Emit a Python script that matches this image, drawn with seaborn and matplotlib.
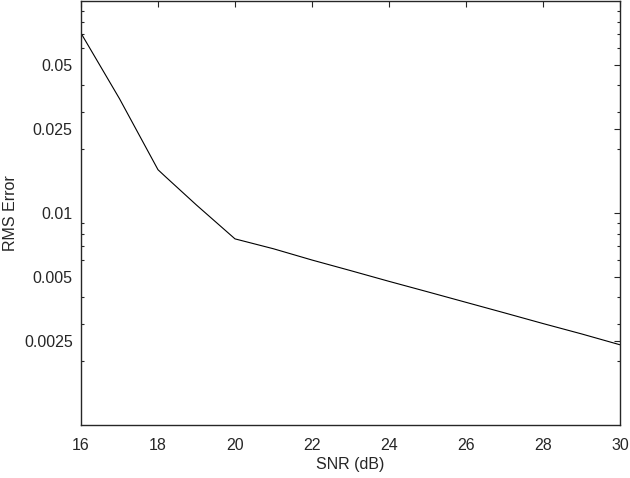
import numpy as np
import pandas as pd
import matplotlib
matplotlib.use("Agg")
import matplotlib.pyplot as plt
import matplotlib.ticker as mticker
import seaborn as sns

snr_db = [16, 17, 18, 18.2, 19, 20, 21, 22, 23, 24, 25, 26, 27, 28, 29, 30]
rms_error = [0.0705, 0.0346, 0.0160, 0.0148, 0.0109, 0.00755, 0.00678, 0.0060,
             0.00535, 0.00476, 0.00425, 0.00379, 0.00338, 0.00301, 0.00269, 0.00239]
y_ticks = [0.0025, 0.005, 0.01, 0.025, 0.05]
y_tick_labels = ["0.0025", "0.005", "0.01", "0.025", "0.05"]
x_ticks = [16, 18, 20, 22, 24, 26, 28, 30]

sns.set_theme(style="white")
plt.rcParams['font.family'] = ['Liberation Sans', 'DejaVu Sans']
txt = "#262626"

fig = plt.figure(figsize=(6.3, 4.78), dpi=100)
ax = fig.add_axes([81/630, 1 - 425/478, (620 - 81)/630, (424)/478])

df = pd.DataFrame({"SNR": snr_db, "RMS": rms_error})
sns.lineplot(data=df, x="SNR", y="RMS", ax=ax, color="black", linewidth=0.8)

ax.set_yscale("log")
ax.set_xlim(16, 30)
ax.set_ylim(0.001, 0.1)
ax.set_xticks(x_ticks)
ax.set_yticks(y_ticks)
ax.set_yticklabels(y_tick_labels)
ax.yaxis.set_minor_locator(mticker.FixedLocator(
    [m * 10.0**e for e in (-3, -2) for m in (2, 3, 4, 6, 7, 8, 9)]))
ax.yaxis.set_minor_formatter(mticker.NullFormatter())

ax.tick_params(axis="both", which="major", direction="in", length=4, width=0.8,
               top=True, right=True, colors=txt, labelsize=11.5, pad=6)
ax.tick_params(axis="x", which="major", pad=9)
ax.tick_params(axis="y", which="minor", direction="in", length=2.5, width=0.8,
               left=True, right=True, colors=txt)
for s in ax.spines.values():
    s.set_color(txt)
    s.set_linewidth(1.0)
    s.set_visible(True)

ax.set_xlabel("SNR (dB)", fontsize=11.5, color=txt, labelpad=3)
ax.set_ylabel("RMS Error", fontsize=11.5, color=txt, labelpad=4)

fig.savefig("out.png", dpi=100)
